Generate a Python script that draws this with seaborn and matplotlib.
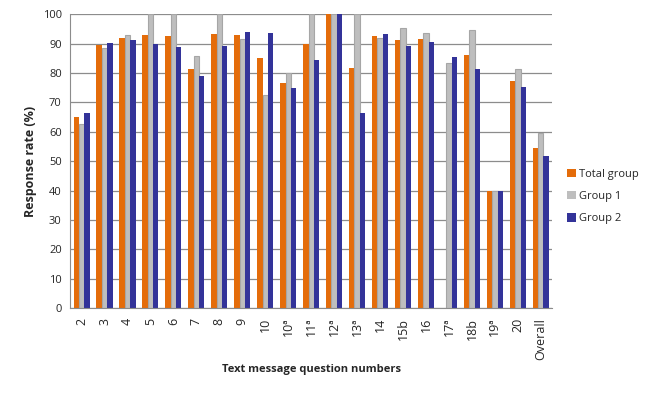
import numpy as np
import pandas as pd
import matplotlib.pyplot as plt
import seaborn as sns

questions = ['2', '3', '4', '5', '6', '7', '8', '9', '10', '10ª', '11ª', '12ª',
             '13ª', '14', '15b', '16', '17ª', '18b', '19ª', '20', 'Overall']
total_group = [65.0, 89.6, 91.9, 93.0, 92.6, 81.4, 93.3, 93.0, 85.1, 76.6, 89.9, 100,
               81.7, 92.6, 91.3, 91.6, np.nan, 86.2, 40, 77.3, 54.5]
group_1 = [62.5, 88.4, 93.0, 100, 100, 85.7, 100, 91.5, 72.4, 79.9, 100, 100,
           100, 91.8, 95.2, 93.5, 83.3, 94.6, 40, 81.3, 59.5]
group_2 = [66.4, 90.2, 91.3, 89.9, 88.9, 79.0, 89.2, 94.0, 93.6, 74.9, 84.4, 100,
           66.4, 93.3, 89.2, 90.6, 85.5, 81.4, 40, 75.3, 51.8]

series = ['Total group', 'Group 1', 'Group 2']
colors = ['#E46C0A', '#BEBEBE', '#333399']

df = pd.DataFrame({
    'question': questions * 3,
    'series': np.repeat(series, len(questions)),
    'rate': total_group + group_1 + group_2,
})

sns.set_style("white")
plt.rcParams['font.family'] = ['Open Sans', 'DejaVu Sans']

fig = plt.figure(figsize=(6.49, 3.93), dpi=100)
ax = fig.add_axes([0.108, 0.216, 0.743, 0.748])

sns.barplot(data=df, x='question', y='rate', hue='series', order=questions,
            hue_order=series, palette=colors, width=0.7, gap=0, ax=ax,
            saturation=1, errorbar=None, legend=True, linewidth=0)

# grey outline on Group 1 bars like the original
for bar in ax.containers[1]:
    bar.set_edgecolor('#A6A6A6')
    bar.set_linewidth(0.8)

ax.set_ylim(0, 100)
ax.set_xlim(-0.5, len(questions) - 0.5)
ax.set_yticks(range(0, 101, 10))
ax.yaxis.grid(True, color='#8C8C8C', linewidth=0.9)
ax.set_axisbelow(True)

for s in ['top', 'right']:
    ax.spines[s].set_visible(False)
ax.spines['left'].set_color('#8C8C8C')
ax.spines['bottom'].set_color('#8C8C8C')

ax.tick_params(axis='y', length=4, color='#8C8C8C', labelsize=8, pad=2)
ax.tick_params(axis='x', which='major', length=0, labelsize=9, rotation=90, pad=7)
ax.set_xticks(np.arange(-0.5, len(questions)), minor=True)
ax.tick_params(axis='x', which='minor', length=5, color='#8C8C8C')

ax.set_ylabel('Response rate (%)', fontsize=9, fontweight='bold')
ax.set_xlabel('Text message question numbers', fontsize=8, fontweight='bold', labelpad=3)

ax.legend(loc='center left', bbox_to_anchor=(1.01, 0.38), frameon=False,
          fontsize=8, handlelength=0.8, handleheight=0.8, labelspacing=1.0,
          handletextpad=0.3)

plt.savefig('out.png', dpi=100)
